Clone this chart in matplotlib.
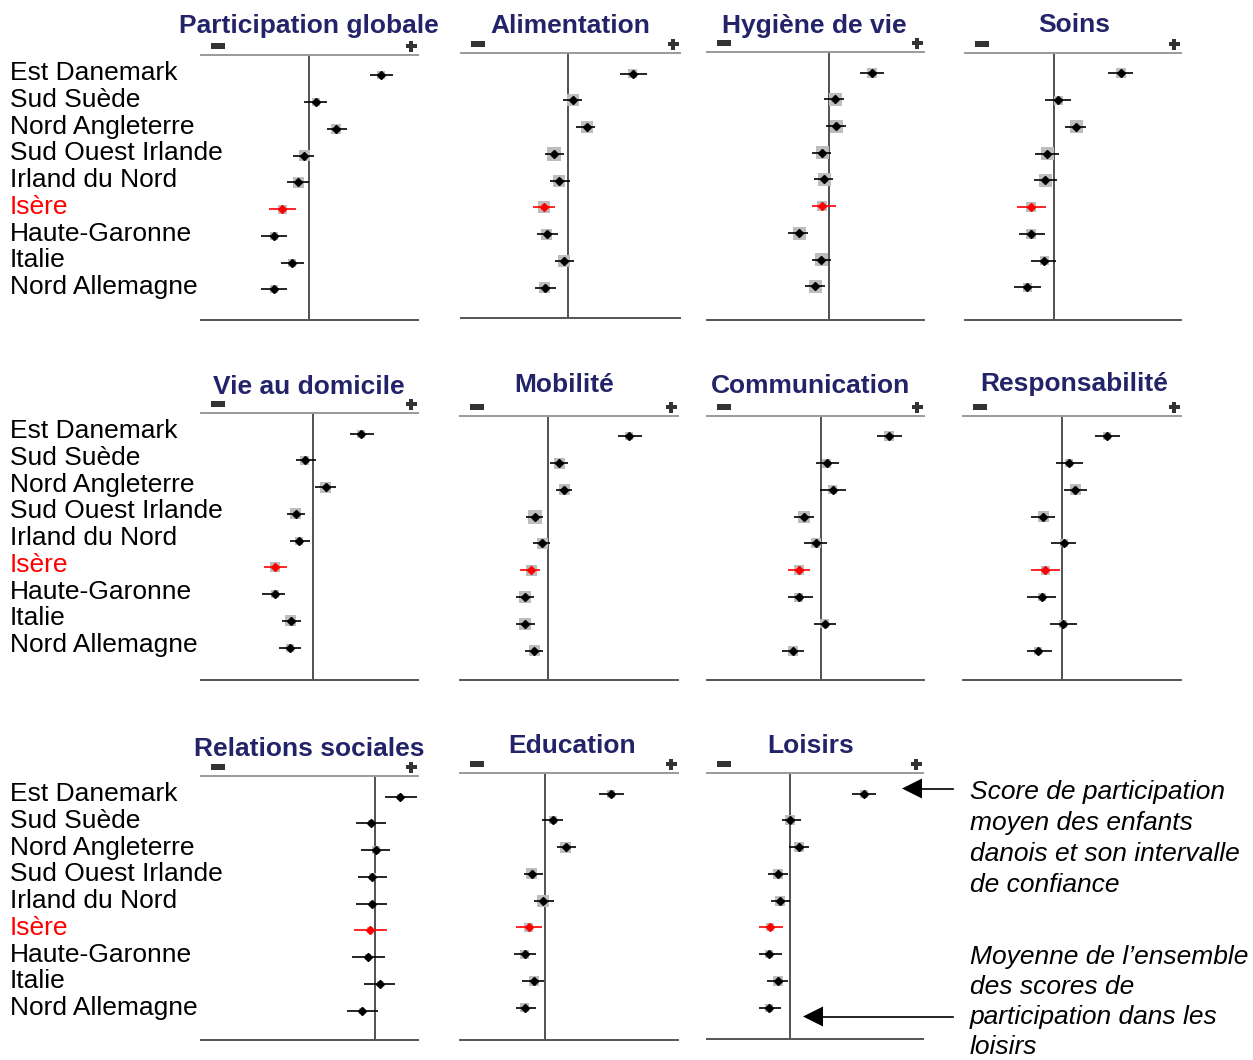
import matplotlib
matplotlib.use("Agg")
import matplotlib.pyplot as plt
from matplotlib.patches import Rectangle, Polygon
from matplotlib.transforms import blended_transform_factory

plt.rcParams['font.family'] = ['Liberation Sans', 'DejaVu Sans']

# ---------------------------------------------------------------- data
regions = ["Est Danemark", "Sud Suède", "Nord Angleterre", "Sud Ouest Irlande",
           "Irland du Nord", "Isère", "Haute-Garonne", "Italie", "Nord Allemagne"]
region_focus = "Isère"

domaines = ["Participation globale", "Alimentation", "Hygiène de vie", "Soins",
            "Vie au domicile", "Mobilité", "Communication", "Responsabilité",
            "Relations sociales", "Education", "Loisirs"]

# écart à la moyenne générale : moyenne, bornes de l'IC, poids
globale_moy = [7.2, 0.7, 2.7, -0.5, -1.1, -2.7, -3.5, -1.7, -3.5]
globale_bas = [6.1, -0.5, 1.8, -1.6, -2.2, -4.0, -4.8, -2.8, -4.8]
globale_haut = [8.4, 1.8, 3.8, 0.5, 0.0, -1.3, -2.2, -0.5, -2.2]
globale_poids = [64, 64, 100, 121, 121, 81, 64, 64, 64]

alim_moy = [6.5, 0.5, 1.9, -1.4, -0.9, -2.4, -2.1, -0.4, -2.3]
alim_bas = [5.2, -0.5, 0.8, -2.3, -1.8, -3.5, -3.1, -1.3, -3.3]
alim_haut = [7.9, 1.4, 2.7, -0.4, 0.2, -1.3, -1.0, 0.6, -1.2]
alim_poids = [81, 144, 144, 196, 144, 144, 121, 144, 121]

hyg_moy = [4.3, 0.6, 0.7, -0.7, -0.5, -0.7, -3.0, -0.8, -1.4]
hyg_bas = [3.1, -0.5, -0.3, -1.7, -1.5, -1.7, -4.1, -1.7, -2.4]
hyg_haut = [5.5, 1.5, 1.7, 0.2, 0.4, 0.7, -2.1, 0.2, -0.4]
hyg_poids = [100, 169, 169, 169, 169, 100, 169, 169, 169]

soins_moy = [6.7, 0.4, 2.2, -0.7, -0.9, -2.3, -2.3, -1.0, -2.7]
soins_bas = [5.4, -0.9, 1.1, -1.9, -2.0, -3.7, -3.5, -2.3, -4.0]
soins_haut = [7.9, 1.7, 3.2, 0.5, 0.3, -0.8, -0.9, 0.2, -1.3]
soins_poids = [100, 81, 169, 169, 169, 100, 100, 81, 81]

dom_moy = [4.8, -0.8, 1.3, -1.7, -1.4, -3.8, -3.8, -2.2, -2.3]
dom_bas = [3.7, -1.7, 0.2, -2.6, -2.3, -4.9, -5.1, -3.1, -3.4]
dom_haut = [6.1, 0.3, 2.3, -0.8, -0.3, -2.6, -2.8, -1.2, -1.2]
dom_poids = [64, 81, 121, 121, 64, 100, 64, 121, 64]

mob_moy = [8.1, 1.1, 1.6, -1.3, -0.6, -1.7, -2.3, -2.3, -1.4]
mob_bas = [7.0, 0.2, 0.8, -2.2, -1.5, -2.8, -3.2, -3.2, -2.3]
mob_haut = [9.4, 2.0, 2.4, -0.5, 0.2, -0.8, -1.4, -1.3, -0.5]
mob_poids = [64, 121, 121, 196, 121, 121, 144, 144, 121]

com_moy = [6.8, 0.6, 1.2, -1.7, -0.5, -2.2, -2.2, 0.4, -2.8]
com_bas = [5.6, -0.5, -0.1, -2.7, -1.7, -3.3, -3.3, -0.7, -3.9]
com_haut = [8.1, 1.8, 2.5, -0.7, 0.6, -1.1, -0.8, 1.5, -1.7]
com_poids = [100, 81, 81, 144, 100, 100, 81, 81, 100]

resp_moy = [4.5, 0.7, 1.3, -1.9, 0.2, -1.7, -2.0, 0.1, -2.4]
resp_bas = [3.3, -0.6, 0.2, -3.1, -1.1, -3.1, -3.5, -1.2, -3.5]
resp_haut = [5.8, 2.1, 2.5, -0.7, 1.4, -0.2, -0.6, 1.5, -1.0]
resp_poids = [64, 64, 121, 121, 64, 81, 64, 64, 64]

rel_moy = [2.5, -0.4, 0.1, -0.3, -0.3, -0.5, -0.7, 0.5, -1.3]
rel_bas = [1.0, -1.9, -1.4, -1.7, -1.9, -2.1, -2.3, -1.1, -2.8]
rel_haut = [4.2, 1.1, 1.5, 1.2, 1.2, 1.2, 1.0, 2.0, 0.3]
rel_poids = [36, 36, 64, 49, 36, 36, 36, 36, 36]

edu_moy = [6.6, 0.8, 2.1, -1.3, -0.2, -1.6, -2.0, -1.1, -2.0]
edu_bas = [5.4, -0.3, 1.2, -2.1, -1.1, -2.9, -3.1, -2.3, -2.9]
edu_haut = [7.9, 1.8, 3.1, -0.2, 0.9, -0.3, -0.9, -0.1, -0.9]
edu_poids = [64, 64, 121, 121, 144, 81, 81, 100, 81]

lois_moy = [7.4, 0.0, 0.9, -1.2, -1.0, -2.0, -2.1, -1.2, -2.1]
lois_bas = [6.2, -0.8, -0.1, -2.2, -1.9, -3.1, -3.1, -2.3, -3.1]
lois_haut = [8.6, 1.1, 1.9, -0.2, 0.0, -0.7, -0.8, -0.2, -0.9]
lois_poids = [64, 100, 100, 100, 100, 64, 64, 100, 64]

note_danemark = ["Score de participation", "moyen des enfants",
                 "danois et son intervalle", "de confiance"]
note_moyenne = ["Moyenne de l\u2019ensemble", "des scores de",
                "participation dans les", "loisirs"]

series = [
    (globale_moy, globale_bas, globale_haut, globale_poids),
    (alim_moy, alim_bas, alim_haut, alim_poids),
    (hyg_moy, hyg_bas, hyg_haut, hyg_poids),
    (soins_moy, soins_bas, soins_haut, soins_poids),
    (dom_moy, dom_bas, dom_haut, dom_poids),
    (mob_moy, mob_bas, mob_haut, mob_poids),
    (com_moy, com_bas, com_haut, com_poids),
    (resp_moy, resp_bas, resp_haut, resp_poids),
    (rel_moy, rel_bas, rel_haut, rel_poids),
    (edu_moy, edu_bas, edu_haut, edu_poids),
    (lois_moy, lois_bas, lois_haut, lois_poids),
]

# ---------------------------------------------------------------- layout
W, H = 1253, 1060
fig = plt.figure(figsize=(W / 100, H / 100), dpi=100)

# pixel frame of each panel: left, right, top rule, bottom rule, mean line x, title baseline
frames = [
    (201, 418, 55, 320, 309.0, 33),
    (461, 680, 53, 318, 567.7, 33),
    (707, 924, 52, 320, 829.3, 33),
    (965, 1181, 53, 320, 1054.0, 32),
    (201, 418, 413, 680, 312.7, 394),
    (460, 678, 416, 680, 548.0, 392),
    (707, 924, 416, 680, 820.7, 393),
    (963, 1181, 416, 680, 1062.3, 391),
    (201, 418, 776, 1040, 375.3, 756),
    (460, 678, 773, 1040, 544.7, 753),
    (707, 923, 773, 1039, 790.3, 753),
]
# horizontal centre of each title (pixels)
title_cx = [309, 570, 814, 1074, 309, 564, 811, 1074, 309, 572, 811]

PX_PER_UNIT = 10.0
ROW_PX = 26.75
FIRST_PX = 20.5

TITLE_COLOR = "#232369"
FOCUS_COLOR = "#ff0000"
SQUARE_COLOR = "#bdbdbd"
SIGN_COLOR = "#333333"

ypos = list(range(len(regions)))
axes = []
for k, (dom, (moy, bas, haut, poids)) in enumerate(zip(domaines, series)):
    L, R, T, B, mx, tb = frames[k]
    ax = fig.add_axes([L / W, 1 - B / H, (R - L) / W, (B - T) / H])
    ax.set_xlim((L - mx) / PX_PER_UNIT, (R - mx) / PX_PER_UNIT)
    top_val = -FIRST_PX / ROW_PX
    ax.set_ylim(top_val + (B - T) / ROW_PX, top_val)
    ax.set_xticks([])
    ax.set_yticks([])
    for side in ("left", "right"):
        ax.spines[side].set_visible(False)
    ax.spines["top"].set_color("#9a9a9a")
    ax.spines["top"].set_linewidth(1.4)
    ax.spines["bottom"].set_color("#555555")
    ax.spines["bottom"].set_linewidth(1.4)
    ax.axvline(0, color="#333333", lw=1.2, zorder=1)

    # weight squares (side proportional to sqrt of weight)
    sizes = [w * 0.72 ** 2 for w in poids]
    ax.scatter(moy, ypos, s=sizes, marker="s", color=SQUARE_COLOR,
               linewidths=0, zorder=2)
    for j, reg in enumerate(regions):
        c = FOCUS_COLOR if reg == region_focus else "black"
        ax.plot([bas[j], haut[j]], [j, j], color=c, lw=1.2,
                solid_capstyle="butt", zorder=3)
        ax.plot(moy[j], j, marker="D", ms=4.0, color=c, mec=c, zorder=4)

    fig.text(title_cx[k] / W, 1 - tb / H, dom, ha="center", va="baseline",
             fontsize=19, fontweight="bold", color=TITLE_COLOR)

    if k % 4 == 0:
        trans = blended_transform_factory(fig.transFigure, ax.transData)
        for j, reg in enumerate(regions):
            c = FOCUS_COLOR if reg == region_focus else "black"
            ax.text(10 / W, j + 0.17, reg, transform=trans, fontsize=19,
                    ha="left", va="baseline", color=c, clip_on=False)
    axes.append(ax)

# overlay in pixel coordinates for signs, arrows and notes
over = fig.add_axes([0, 0, 1, 1])
over.set_xlim(0, W)
over.set_ylim(H, 0)
over.axis("off")

for (L, R, T, B, mx, tb) in frames:
    # "-" sign
    over.add_patch(Rectangle((L + 10, T - 12.5), 14, 6, color=SIGN_COLOR, lw=0))
    # "+" sign
    cx, cy = R - 7, T - 9
    over.add_patch(Rectangle((cx - 5.5, cy - 2), 11, 4, color=SIGN_COLOR, lw=0))
    over.add_patch(Rectangle((cx - 2, cy - 5.5), 4, 11, color=SIGN_COLOR, lw=0))


def arrow(x_tip, x_tail, y):
    over.plot([x_tip + 19, x_tail], [y, y], color="black", lw=1.2)
    over.add_patch(Polygon([(x_tip, y), (x_tip + 20, y - 10), (x_tip + 20, y + 10)],
                           closed=True, color="black", lw=0))


arrow(902, 953, 788.5)
arrow(803, 953, 1016.5)

for i, line in enumerate(note_danemark):
    over.text(970, 799 + 31 * i, line, fontsize=19, style="italic",
              ha="left", va="baseline", color="black")
for i, line in enumerate(note_moyenne):
    over.text(970, 964 + 30 * i, line, fontsize=19, style="italic",
              ha="left", va="baseline", color="black")

fig.savefig("out.png", dpi=100)
